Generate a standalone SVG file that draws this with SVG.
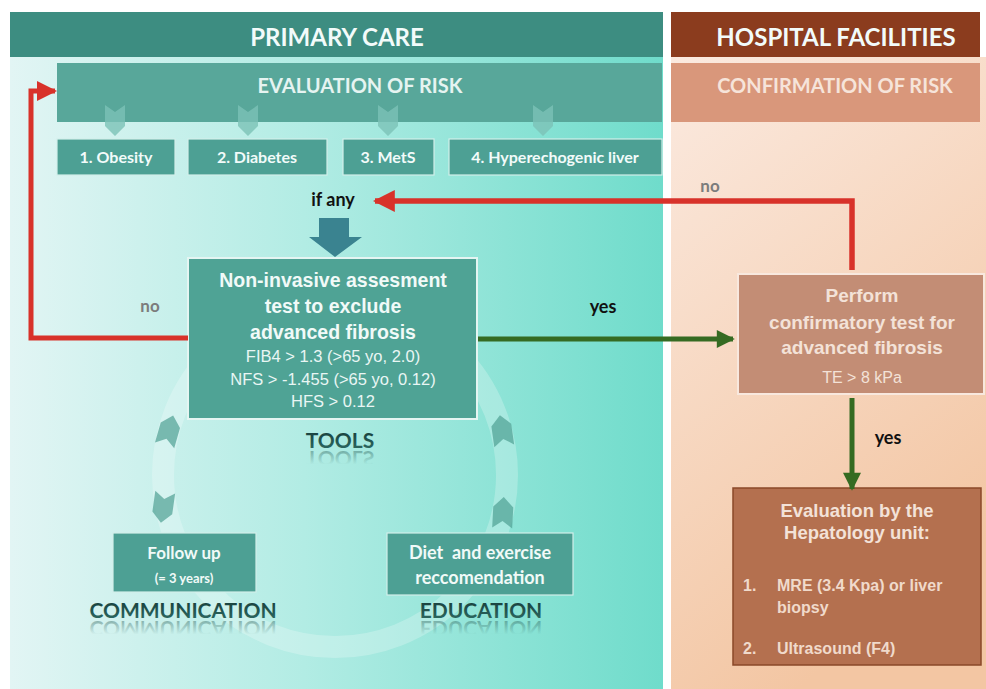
<svg xmlns="http://www.w3.org/2000/svg" width="986" height="689" viewBox="0 0 986 689">
  <defs>
    <linearGradient id="leftBg" x1="0" y1="0" x2="1" y2="0">
      <stop offset="0" stop-color="#e2f5f4"/>
      <stop offset="0.45" stop-color="#b2ece4"/>
      <stop offset="1" stop-color="#6fdccb"/>
    </linearGradient>
    <linearGradient id="rightBg" x1="0" y1="0" x2="0.4" y2="1">
      <stop offset="0" stop-color="#fbeae0"/>
      <stop offset="1" stop-color="#f3c6a3"/>
    </linearGradient>
    <linearGradient id="fade" x1="0" y1="0" x2="0" y2="1">
      <stop offset="0.3" stop-color="#2a5f59" stop-opacity="0"/>
      <stop offset="1" stop-color="#2a5f59" stop-opacity="0.55"/>
    </linearGradient>
    <linearGradient id="ink" x1="0" y1="0" x2="0" y2="1">
      <stop offset="0" stop-color="#143634"/>
      <stop offset="1" stop-color="#2f6f67"/>
    </linearGradient>
    <marker id="redHead" viewBox="0 0 10 10" refX="9" refY="5" markerWidth="4" markerHeight="4" markerUnits="strokeWidth" orient="auto">
      <path d="M0,0 L10,5 L0,10 Z" fill="#d8322a"/>
    </marker>
    <marker id="greenHead" viewBox="0 0 10 10" refX="9" refY="5" markerWidth="4" markerHeight="3.6" markerUnits="strokeWidth" orient="auto">
      <path d="M0,0 L10,5 L0,10 Z" fill="#356b22"/>
    </marker>
    <path id="chev" d="M-10,-16 L0,-9 L10,-16 L10,5 L0,15 L-10,5 Z"/>
  </defs>
  <style>
    .cal { font-family: Lato, "Open Sans", "Liberation Sans", sans-serif; font-weight: 700; text-anchor: middle; }
    .ari { font-family: "Liberation Sans", Arial, sans-serif; text-anchor: middle; }
    .hdr { font-size: 24px; fill: #f2fbfa; }
    .bandTxt { font-size: 20px; }
    .small { font-size: 16px; fill: #f2fbfa; }
    .teal { fill: #4da094; stroke: #d3eeea; stroke-width: 1.2; }
    .wb { font-weight: 700; fill: #f1faf8; }
    .wr { fill: #e9f6f4; }
    .lbl { font-size: 18px; fill: #111; }
    .grey { font-size: 17px; fill: #7c7c7c; }
    .word { font-size: 21px; fill: url(#ink); }
    .refl { font-size: 21px; fill: url(#fade); }
    .chv { fill: #4f9f93; fill-opacity: 0.7; }
    .brownTxt { font-weight: 700; fill: #f3e2d8; }
  </style>

  <!-- panel backgrounds -->
  <rect x="10" y="57" width="653" height="632" fill="url(#leftBg)"/>
  <rect x="671" y="57" width="315" height="632" fill="url(#rightBg)"/>

  <!-- section headers -->
  <g id="primary-care">
    <rect x="10" y="12" width="653" height="45" fill="#3d8d81"/>
    <text class="cal hdr" x="337" y="46">PRIMARY CARE</text>
  </g>
  <g id="hospital-facilities">
    <rect x="671" y="12" width="309" height="45" fill="#8b3c1e"/>
    <text class="cal hdr" x="836" y="46">HOSPITAL FACILITIES</text>
  </g>

  <!-- risk bands -->
  <g id="evaluation-of-risk">
    <rect x="57" y="63" width="605" height="59" fill="#58a79a"/>
    <text class="cal bandTxt" x="360" y="93" fill="#e6f4f1">EVALUATION OF RISK</text>
  </g>
  <g id="confirmation-of-risk">
    <rect x="671" y="63" width="309" height="59" fill="#d9977b"/>
    <text class="cal bandTxt" x="835" y="93" fill="#f6e4da">CONFIRMATION OF RISK</text>
  </g>

  <!-- treatment cycle ring -->
  <g id="cycle-ring">
    <circle cx="335" cy="475" r="172" fill="none" stroke="#ffffff" stroke-opacity="0.24" stroke-width="22"/>
    <use href="#chev" class="chv" transform="translate(169,430) rotate(196)"/>
    <use href="#chev" class="chv" transform="translate(163,508) rotate(8)"/>
    <use href="#chev" class="chv" transform="translate(502,430) rotate(172)"/>
    <use href="#chev" class="chv" transform="translate(503,512) rotate(183)"/>
  </g>

  <!-- risk factor nodes -->
  <g id="risk-arrows">
    <use href="#chev" fill="#7cc2b7" fill-opacity="0.8" transform="translate(115,121)"/>
    <use href="#chev" fill="#7cc2b7" fill-opacity="0.8" transform="translate(248,121)"/>
    <use href="#chev" fill="#7cc2b7" fill-opacity="0.8" transform="translate(388,121)"/>
    <use href="#chev" fill="#7cc2b7" fill-opacity="0.8" transform="translate(543,121)"/>
  </g>
  <g id="obesity">
    <rect class="teal" x="57" y="139" width="118" height="36"/>
    <text class="cal small" x="116" y="163">1. Obesity</text>
  </g>
  <g id="diabetes">
    <rect class="teal" x="188" y="139" width="139" height="36"/>
    <text class="cal small" x="257" y="163">2. Diabetes</text>
  </g>
  <g id="mets">
    <rect class="teal" x="343" y="139" width="91" height="36"/>
    <text class="cal small" x="388" y="163">3. MetS</text>
  </g>
  <g id="hyperechogenic-liver">
    <rect class="teal" x="449" y="139" width="213" height="36"/>
    <text class="cal small" x="555" y="163">4. Hyperechogenic liver</text>
  </g>

  <!-- "if any" down arrow -->
  <g id="if-any">
    <text class="cal lbl" x="333" y="206">if any</text>
    <path d="M319,218 L349,218 L349,237 L362,237 L335,257 L309,237 L319,237 Z" fill="#3a8390"/>
  </g>

  <!-- non-invasive assessment -->
  <g id="non-invasive-test">
    <rect x="188" y="258" width="289" height="161" fill="#4fa395" stroke="#e4f5f2" stroke-width="2"/>
    <text class="ari wb" font-size="19.5" x="333" y="287">Non-invasive assesment</text>
    <text class="ari wb" font-size="19.5" x="333" y="313">test to exclude</text>
    <text class="ari wb" font-size="19.5" x="333" y="339">advanced fibrosis</text>
    <text class="ari wr" font-size="16.5" x="333" y="362">FIB4 &gt; 1.3 (&gt;65 yo, 2.0)</text>
    <text class="ari wr" font-size="16.5" x="333" y="385">NFS &gt; -1.455 (&gt;65 yo, 0.12)</text>
    <text class="ari wr" font-size="16.5" x="333" y="407">HFS &gt; 0.12</text>
  </g>

  <!-- cycle labels; each mirrored copy is flipped about its baseline -->
  <g id="tools">
    <text class="cal word" x="340" y="448">TOOLS</text>
    <text class="cal refl" x="340" y="-451" transform="scale(1,-1)">TOOLS</text>
  </g>
  <g id="follow-up">
    <rect class="teal" x="113" y="533" width="143" height="59"/>
    <text class="cal" font-size="17" fill="#f1faf8" x="184" y="559">Follow up</text>
    <text class="cal" font-size="13" fill="#f1faf8" x="184" y="583">(= 3 years)</text>
  </g>
  <g id="communication">
    <text class="cal word" x="183" y="618">COMMUNICATION</text>
    <text class="cal refl" x="183" y="-621" transform="scale(1,-1)">COMMUNICATION</text>
  </g>
  <g id="diet-exercise">
    <rect class="teal" x="387" y="533" width="186" height="62"/>
    <text class="cal" font-size="18" fill="#f1faf8" x="480" y="559" style="white-space:pre">Diet  and exercise</text>
    <text class="cal" font-size="18" fill="#f1faf8" x="480" y="584">reccomendation</text>
  </g>
  <g id="education">
    <text class="cal word" x="481" y="618">EDUCATION</text>
    <text class="cal refl" x="481" y="-621" transform="scale(1,-1)">EDUCATION</text>
  </g>

  <!-- hospital nodes -->
  <g id="confirmatory-test">
    <rect x="738" y="274" width="246" height="120" fill="#c38d75" stroke="#f8e8de" stroke-width="2"/>
    <text class="ari brownTxt" font-size="19" x="862" y="302">Perform</text>
    <text class="ari brownTxt" font-size="19" x="862" y="329">confirmatory test for</text>
    <text class="ari brownTxt" font-size="19" x="862" y="354">advanced fibrosis</text>
    <text class="ari" font-size="16" fill="#f3e2d8" x="862" y="383">TE &gt; 8 kPa</text>
  </g>
  <g id="hepatology-unit">
    <rect x="733" y="488" width="248" height="177" fill="#b4704f" stroke="#8a4828" stroke-width="1.5"/>
    <text class="ari brownTxt" font-size="18.5" x="857" y="517">Evaluation by the</text>
    <text class="ari brownTxt" font-size="18.5" x="857" y="539">Hepatology unit:</text>
    <g font-family="'Liberation Sans', Arial, sans-serif" font-weight="700" font-size="16" fill="#f0dacb">
      <text x="743" y="591">1.</text>
      <text x="777" y="591">MRE (3.4 Kpa) or liver</text>
      <text x="777" y="613">biopsy</text>
      <text x="743" y="654">2.</text>
      <text x="777" y="654">Ultrasound (F4)</text>
    </g>
  </g>

  <!-- connectors -->
  <g id="connectors" fill="none">
    <path d="M188,338 L31,338 L31,91 L55,91" stroke="#d8322a" stroke-width="5" marker-end="url(#redHead)"/>
    <path d="M852,270 L852,201 L375,201" stroke="#d8322a" stroke-width="5.5" marker-end="url(#redHead)"/>
    <path d="M478,339 L733,339" stroke="#356b22" stroke-width="5" marker-end="url(#greenHead)"/>
    <path d="M852,398 L852,489" stroke="#356b22" stroke-width="5" marker-end="url(#greenHead)"/>
  </g>

  <!-- connector labels -->
  <text class="cal grey" x="150" y="312">no</text>
  <text class="cal grey" font-weight="400" x="710" y="192">no</text>
  <text class="cal lbl" x="603" y="313">yes</text>
  <text class="cal lbl" x="888" y="444">yes</text>
</svg>
